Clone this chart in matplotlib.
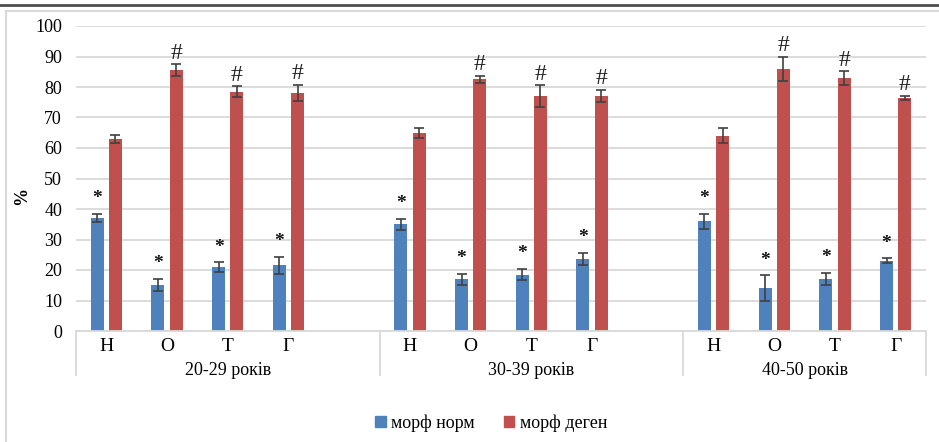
import numpy as np
import matplotlib.pyplot as plt
from matplotlib.patches import Rectangle
from matplotlib.lines import Line2D

plt.rcParams['font.family'] = ['Liberation Serif', 'DejaVu Serif']

groups = ['20-29 років', '30-39 років', '40-50 років']
cats = ['Н', 'О', 'Т', 'Г']

norm = [37, 15, 21, 21.5,
        35, 17, 18.5, 23.5,
        36, 14, 17, 23]
norm_err = [1.3, 2.0, 1.5, 2.7,
            1.8, 1.8, 1.8, 2.0,
            2.4, 4.2, 2.0, 0.8]
degen = [63, 85.5, 78.5, 78,
         65, 82.5, 77, 77,
         64, 86, 83, 76.5]
degen_err = [1.2, 2.0, 1.7, 2.7,
             1.7, 1.2, 3.6, 2.0,
             2.5, 4.0, 2.2, 0.6]
# significance marks: '*' on every norm bar, '#' on degen bars except Н
norm_mark = ['*'] * 12
degen_mark = ['', '#', '#', '#'] * 3

blue = '#4f81bd'
red = '#c0504d'
W, H = 939, 442

fig = plt.figure(figsize=(W / 100, H / 100), dpi=100)
ax = fig.add_axes([76 / W, 1 - 331 / H, 850 / W, 305 / H])

# 14 slots: 4 categories + a blank per group, last group without blank
slots = [0, 1, 2, 3, 5, 6, 7, 8, 10, 11, 12, 13]
x = np.array(slots, dtype=float)
bw = 0.215
off = 0.15

ax.bar(x - off, norm, bw, color=blue, zorder=2)
ax.bar(x + off, degen, bw, color=red, zorder=2)
ekw = dict(fmt='none', ecolor='#404040', elinewidth=1.2, capsize=3.5, capthick=1.2, zorder=3)
ax.errorbar(x - off, norm, yerr=norm_err, **ekw)
ax.errorbar(x + off, degen, yerr=degen_err, **ekw)

for xi, v, e, m in zip(x, norm, norm_err, norm_mark):
    ax.annotate(m, (xi - off, v + e), xytext=(0, 11), textcoords='offset points',
                ha='center', va='center', fontsize=14, fontweight='bold', color='#111111')
for xi, v, e, m in zip(x, degen, degen_err, degen_mark):
    ax.annotate(m, (xi + off, v + e), xytext=(0, 8), textcoords='offset points',
                ha='center', va='center', fontsize=17, color='#222222')

ax.set_xlim(-0.5, 13.5)
ax.set_ylim(0, 100)
ax.set_yticks(range(0, 101, 10))
ax.tick_params(axis='y', length=0, pad=10, labelsize=13)
ax.set_xticks([])
ax.grid(axis='y', color='#d9d9d9', linewidth=1.3, zorder=0)
for s in ['left', 'right', 'top']:
    ax.spines[s].set_visible(False)
ax.spines['bottom'].set_color('#d9d9d9')
ax.spines['bottom'].set_linewidth(1.3)

# two-level category axis
trans = ax.get_xaxis_transform()
for xi, s in zip(x, slots):
    ax.text(xi, -0.052, cats[s % 5], transform=trans, ha='center', va='center', fontsize=14)
for gx, g in zip([2, 7, 11.5], groups):
    ax.text(gx, -0.128, g, transform=trans, ha='center', va='center', fontsize=13)
for bx in [-0.5, 4.5, 9.5, 13.5]:
    ax.add_line(Line2D([bx, bx], [0, -0.144], transform=trans, color='#d9d9d9',
                       linewidth=1.3, clip_on=False))

fig.text(22 / W, 1 - 196 / H, '%', rotation=90, ha='center', va='center',
         fontsize=13, fontweight='bold')

handles = [Rectangle((0, 0), 1, 1, color=blue), Rectangle((0, 0), 1, 1, color=red)]
fig.legend(handles, ['морф норм', 'морф деген'], loc='center',
           bbox_to_anchor=(491 / W, 1 - 423 / H), ncol=2, frameon=False,
           fontsize=13, handlelength=0.6, handleheight=0.6, handletextpad=0.3,
           columnspacing=1.6)

# outer chart frame and top rule
fig.patches.append(Rectangle((6 / W, -0.1), 1.1, 1 - 11 / H + 0.1, transform=fig.transFigure,
                             fill=False, edgecolor='#d9d9d9', linewidth=1.5))
fig.add_artist(Line2D([0, 1], [1 - 4.5 / H, 1 - 4.5 / H], transform=fig.transFigure,
                      color='#4d4d4d', linewidth=2))

fig.savefig('out.png', dpi=100)
